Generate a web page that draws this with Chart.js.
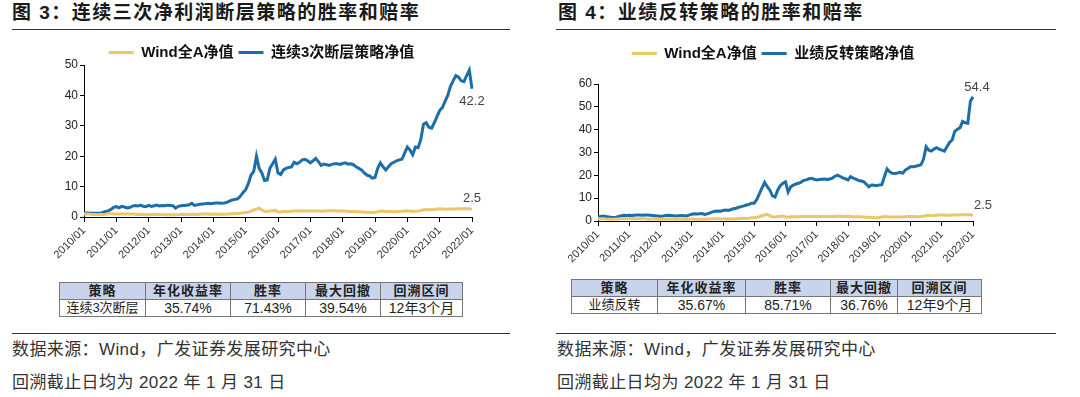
<!DOCTYPE html>
<html>
<head>
<meta charset="utf-8">
<script src="https://cdn.jsdelivr.net/npm/chart.js@4.4.1/dist/chart.umd.min.js"></script>
<style>
  body { margin: 0; width: 1080px; height: 397px; background: #fff; position: relative; overflow: hidden;
         font-family: "Liberation Sans", "Noto Sans CJK SC", sans-serif; color: #222; }
  .title { position: absolute; top: 0; height: 26px; line-height: 26px; font-size: 19px; font-weight: bold;
           letter-spacing: 1.5px; color: #1a1a1a; white-space: nowrap; }
  .rule { position: absolute; height: 0; border-top: 1px solid #333; }
  canvas { position: absolute; }
  table { position: absolute; border-collapse: collapse; table-layout: fixed; font-size: 13px; color: #222; }
  td { border: 1px solid #777; height: 16px; padding: 0; text-align: center; line-height: 16px; white-space: nowrap; }
  tr.head td { background: #c8d4ec; font-weight: bold; letter-spacing: 1px; }
  td.num { font-size: 14px; }
  .note { position: absolute; left: 0; font-size: 17px; letter-spacing: 0.4px; color: #333; white-space: nowrap; line-height: 20px; }
</style>
</head>
<body>

<div class="title" style="left:12px">图 3：连续三次净利润断层策略的胜率和赔率</div>
<div class="rule" style="left:12px; top:29px; width:498px"></div>
<canvas id="gapChart" width="520" height="229" style="left:0; top:36px"></canvas>
<table style="left:59px; top:282px; width:403px">
  <colgroup><col style="width:86px"><col style="width:85px"><col style="width:75px"><col style="width:75px"><col style="width:82px"></colgroup>
  <tr class="head"><td>策略</td><td>年化收益率</td><td>胜率</td><td>最大回撤</td><td>回溯区间</td></tr>
  <tr><td>连续3次断层</td><td class="num">35.74%</td><td class="num">71.43%</td><td class="num">39.54%</td><td class="num">12年3个月</td></tr>
</table>
<div class="rule" style="left:12px; top:333px; width:498px"></div>
<div class="note" style="left:12px; top:340px">数据来源：Wind，广发证券发展研究中心</div>
<div class="note" style="left:12px; top:373px">回溯截止日均为 2022 年 1 月 31 日</div>

<div class="title" style="left:558px">图 4：业绩反转策略的胜率和赔率</div>
<div class="rule" style="left:556px; top:29px; width:500px"></div>
<canvas id="reversalChart" width="520" height="232" style="left:540px; top:37px"></canvas>
<table style="left:571px; top:279px; width:410px">
  <colgroup><col style="width:86px"><col style="width:88px"><col style="width:85px"><col style="width:67px"><col style="width:84px"></colgroup>
  <tr class="head"><td>策略</td><td>年化收益率</td><td>胜率</td><td>最大回撤</td><td>回溯区间</td></tr>
  <tr><td>业绩反转</td><td class="num">35.67%</td><td class="num">85.71%</td><td class="num">36.76%</td><td class="num">12年9个月</td></tr>
</table>
<div class="rule" style="left:556px; top:333px; width:500px"></div>
<div class="note" style="left:557px; top:340px">数据来源：Wind，广发证券发展研究中心</div>
<div class="note" style="left:557px; top:373px">回溯截止日均为 2022 年 1 月 31 日</div>

<script>
// monthly categories 2010/01 .. 2022/01
const months = [];
for (let y = 2010; y <= 2022; y++) {
    for (let m = 1; m <= 12; m++) {
        if (y === 2022 && m > 1) break;
        months.push(y + '/' + String(m).padStart(2, '0'));
    }
}

// Wind全A净值 (same index in both charts)
const windA = [
    1.00, 0.95, 0.95, 0.85, 0.80, 0.75, 0.80, 0.85, 0.90, 1.05, 1.05, 1.00,
    1.00, 1.00, 1.05, 1.00, 0.95, 0.95, 0.95, 0.90, 0.80, 0.85, 0.85, 0.75,
    0.78, 0.82, 0.82, 0.85, 0.85, 0.80, 0.75, 0.72, 0.72, 0.70, 0.70, 0.78,
    0.85, 0.88, 0.82, 0.82, 0.90, 0.80, 0.85, 0.90, 0.95, 0.95, 0.95, 0.92,
    0.92, 0.95, 0.92, 0.90, 0.92, 0.95, 1.00, 1.05, 1.10, 1.15, 1.25, 1.40,
    1.45, 1.60, 1.90, 2.30, 2.60, 2.90, 2.30, 1.90, 1.80, 2.00, 2.10, 2.20,
    1.70, 1.65, 1.85, 1.85, 1.85, 1.90, 1.95, 1.95, 1.95, 1.98, 2.00, 1.95,
    1.95, 2.00, 2.00, 1.95, 1.90, 1.95, 1.98, 2.02, 2.05, 2.05, 2.00, 1.98,
    2.05, 1.95, 1.90, 1.85, 1.85, 1.75, 1.70, 1.65, 1.65, 1.50, 1.55, 1.45,
    1.55, 1.75, 1.95, 1.90, 1.80, 1.80, 1.80, 1.75, 1.80, 1.80, 1.85, 1.95,
    2.00, 2.00, 1.85, 1.90, 1.95, 2.10, 2.40, 2.45, 2.35, 2.40, 2.50, 2.60,
    2.65, 2.60, 2.55, 2.55, 2.60, 2.65, 2.65, 2.70, 2.70, 2.70, 2.75, 2.75,
    2.50
];

// 连续3次断层策略净值
const gapStrategy = [
    1.3, 1.3, 1.3, 1.2, 1.2, 1.2, 1.2, 1.5, 1.8, 2.0, 2.5, 3.2,
    3.4, 3.0, 3.5, 3.3, 3.0, 3.1, 3.6, 3.8, 3.6, 3.9, 3.5, 3.4,
    3.8, 3.5, 3.7, 3.9, 3.6, 3.8, 3.7, 3.9, 3.8, 3.7, 2.9, 3.5,
    3.7, 3.8, 3.9, 4.0, 4.5, 3.8, 4.0, 4.2, 4.3, 4.4, 4.5, 4.4,
    4.5, 4.6, 4.6, 4.5, 4.6, 4.8, 5.2, 5.6, 5.8, 6.0, 6.8, 8.0,
    9.0, 11.0, 13.8, 15.0, 20.0, 16.0, 14.5, 12.0, 12.2, 16.0, 17.5, 19.0,
    14.5, 14.0, 15.5, 16.0, 16.3, 16.5, 18.0, 17.5, 18.0, 18.8, 19.0, 18.5,
    17.8, 18.5, 19.3, 18.2, 17.0, 17.4, 17.2, 17.0, 17.3, 17.5, 17.5, 17.3,
    17.6, 17.8, 17.4, 17.5, 17.2, 16.5, 16.0, 15.5, 14.5, 13.8, 13.5, 12.8,
    13.0, 16.0, 17.8, 16.5, 15.5, 16.5, 17.5, 18.0, 18.5, 18.8, 19.0, 21.0,
    23.0, 22.0, 20.5, 23.0, 22.8, 25.5, 30.5, 31.0, 29.5, 29.2, 31.0, 33.0,
    35.0, 36.0, 38.0, 40.0, 43.0, 44.8, 46.5, 46.0, 44.8, 44.5, 46.5, 48.3,
    42.2
];

// 业绩反转策略净值
const reversalStrategy = [
    1.8, 2.0, 2.2, 2.0, 1.8, 1.6, 1.5, 1.7, 2.0, 2.3, 2.5, 2.4,
    2.5, 2.4, 2.5, 2.6, 2.6, 2.5, 2.6, 2.6, 2.5, 2.4, 2.3, 2.2,
    2.1, 2.2, 2.4, 2.5, 2.4, 2.3, 2.2, 2.3, 2.4, 2.3, 2.2, 2.6,
    3.0, 3.2, 3.1, 3.2, 3.3, 2.9, 3.1, 3.6, 4.0, 4.3, 4.4, 4.3,
    4.6, 4.8, 4.6, 5.0, 5.4, 5.6, 6.0, 6.3, 6.6, 7.0, 7.3, 7.8,
    7.8, 9.5, 12.0, 14.5, 16.9, 15.0, 13.5, 11.0, 10.5, 13.5, 15.5, 16.5,
    17.2, 12.7, 15.0, 15.7, 16.2, 16.5, 17.0, 17.8, 18.0, 18.5, 18.7, 18.3,
    18.0, 18.2, 18.3, 18.4, 18.2, 18.4, 18.8, 19.6, 20.1, 19.5, 18.9, 18.5,
    18.0, 19.4, 18.8, 18.3, 17.8, 17.5, 17.2, 16.2, 15.0, 15.8, 15.7, 15.5,
    15.8, 15.9, 19.5, 22.8, 21.5, 20.9, 20.8, 21.0, 21.3, 20.9, 22.3, 23.0,
    23.8, 23.8, 24.0, 24.3, 24.6, 27.0, 32.5, 31.0, 30.6, 31.5, 32.1, 31.5,
    31.0, 30.6, 32.5, 34.4, 35.5, 39.3, 40.2, 40.8, 43.6, 43.0, 42.8, 52.5,
    54.4
];

const yearTicks = ['2010/01', '2011/01', '2012/01', '2013/01', '2014/01', '2015/01', '2016/01',
                   '2017/01', '2018/01', '2019/01', '2020/01', '2021/01', '2022/01'];

const YELLOW = '#ebc66a';
const BLUE = '#1d6ea8';

Chart.defaults.font.family = '"Liberation Sans", "Noto Sans CJK SC", sans-serif';
Chart.defaults.color = '#222';

// value label at the end of each line
const endLabels = {
    id: 'endLabels',
    afterDatasetsDraw(chart) {
        const ctx = chart.ctx;
        ctx.save();
        ctx.font = '13px "Liberation Sans", sans-serif';
        ctx.fillStyle = '#444';
        ctx.textAlign = 'center';
        ctx.textBaseline = 'middle';
        chart.data.datasets.forEach((ds, i) => {
            const meta = chart.getDatasetMeta(i);
            const pt = meta.data[meta.data.length - 1];
            const v = ds.data[ds.data.length - 1];
            ctx.fillText(v.toFixed(1), pt.x + ds.labelDx, pt.y + ds.labelDy);
        });
        ctx.restore();
    }
};

function makeChart(id, strategyName, strategyData, yMax, yStep, cfg) {
    const ctx = document.getElementById(id).getContext('2d');
    const legendGap = {
        id: 'legendGap',
        beforeInit(chart) {
            const fit = chart.legend.fit;
            chart.legend.fit = function () {
                fit.bind(chart.legend)();
                this.height += cfg.legendExtra;
            };
        }
    };
    return new Chart(ctx, {
        type: 'line',
        data: {
            labels: months,
            datasets: [{
                label: 'Wind全A净值',
                data: windA,
                borderColor: YELLOW,
                backgroundColor: YELLOW,
                borderWidth: 3,
                pointRadius: 0,
                tension: 0,
                labelDx: cfg.windDx,
                labelDy: cfg.windDy
            }, {
                label: strategyName,
                data: strategyData,
                borderColor: BLUE,
                backgroundColor: BLUE,
                borderWidth: 3,
                pointRadius: 0,
                tension: 0,
                labelDx: cfg.stratDx,
                labelDy: cfg.stratDy
            }]
        },
        options: {
            responsive: false,
            animation: false,
            layout: { padding: { left: cfg.padLeft, right: cfg.padRight, top: 4, bottom: 0 } },
            plugins: {
                tooltip: { enabled: false },
                legend: {
                    position: 'top',
                    labels: {
                        boxWidth: 25,
                        boxHeight: 3,
                        padding: 5,
                        color: '#111',
                        font: { size: 15, weight: 'bold' },
                        generateLabels(chart) {
                            return Chart.defaults.plugins.legend.labels.generateLabels(chart).map(l => {
                                l.lineWidth = 0;
                                l.fillStyle = l.strokeStyle;
                                return l;
                            });
                        }
                    }
                }
            },
            scales: {
                x: {
                    afterFit(scale) { scale.height = 48; },
                    border: { display: true, color: '#000', width: 1 },
                    grid: { display: true, drawOnChartArea: false, drawTicks: true, tickLength: 5, color: '#000' },
                    ticks: {
                        autoSkip: false,
                        minRotation: 45,
                        maxRotation: 45,
                        padding: 2,
                        color: '#333',
                        font: { size: 11 },
                        callback(val, i) {
                            const lab = months[i];
                            return yearTicks.includes(lab) ? lab : null;
                        }
                    }
                },
                y: {
                    min: 0,
                    max: yMax,
                    afterFit(scale) { scale.width = cfg.yWidth; },
                    border: { display: true, color: '#000', width: 1 },
                    grid: { display: true, drawOnChartArea: false, drawTicks: true, tickLength: 4, color: '#000' },
                    ticks: { stepSize: yStep, padding: 2, color: '#222', font: { size: 12 } }
                }
            }
        },
        plugins: [legendGap, endLabels]
    });
}

makeChart('gapChart', '连续3次断层策略净值', gapStrategy, 50, 5, {
    padLeft: 51, padRight: 48, yWidth: 33, legendExtra: -5,
    windDx: 0, windDy: -11, stratDx: 0, stratDy: 13
});
makeChart('reversalChart', '业绩反转策略净值', reversalStrategy, 60, 10, {
    padLeft: 33, padRight: 87, yWidth: 25, legendExtra: 13,
    windDx: 10, windDy: -10, stratDx: 4, stratDy: -9
});
</script>
</body>
</html>
